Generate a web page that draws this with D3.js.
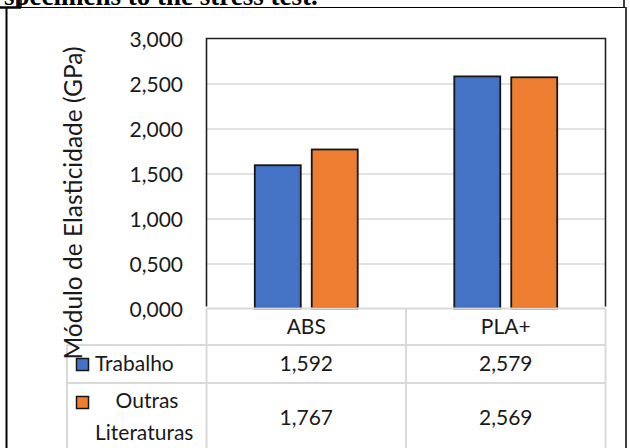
<!DOCTYPE html>
<html>
<head>
<meta charset="utf-8">
<script src="https://cdn.jsdelivr.net/npm/d3@7"></script>
<style>
  html, body { margin: 0; padding: 0; background: #fff; }
  svg { display: block; }
  text { font-family: Lato, "Open Sans", sans-serif; fill: #1a1a1a; }
</style>
</head>
<body>
<svg id="chart" width="630" height="448"></svg>
<script>
// Elastic modulus per material, with a data table underneath
const categories = ["ABS", "PLA+"];
const seriesNames = ["Trabalho", "Outras Literaturas"];
const trabalho = [1.592, 2.579];
const outrasLiteraturas = [1.767, 2.569];
const yTicks = [0, 0.5, 1, 1.5, 2, 2.5, 3];
const seriesColors = ["#4472C4", "#ED7D31"];
const yTitle = "Módulo de Elasticidade (GPa)";
const caption = "specimens to the stress test.";

const seriesValues = [trabalho, outrasLiteraturas];
const fmt = v => d3.format(".3f")(v).replace(".", ",");

const svg = d3.select("#chart");
const fs = 21;

// page frame around the figure
const frame = svg.append("g");
frame.append("text")
  .attr("x", 4).attr("y", 5)
  .style("font-family", "'Liberation Serif', 'Times New Roman', serif")
  .style("font-weight", "bold").style("font-size", "27px")
  .style("fill", "#000")
  .text(caption);
frame.append("rect").attr("x", 0).attr("y", 7.5).attr("width", 630).attr("height", 441)
  .attr("fill", "#fff");
frame.append("line").attr("x1", 0).attr("x2", 625).attr("y1", 7.5).attr("y2", 7.5)
  .attr("stroke", "#000").attr("stroke-width", 1.2);
frame.append("line").attr("x1", 0).attr("x2", 21).attr("y1", 7.5).attr("y2", 7.5)
  .attr("stroke", "#000").attr("stroke-width", 2.5);
frame.append("line").attr("x1", 21).attr("x2", 21).attr("y1", 0).attr("y2", 8)
  .attr("stroke", "#000").attr("stroke-width", 1.5);
frame.append("line").attr("x1", 624).attr("x2", 624).attr("y1", 0).attr("y2", 8)
  .attr("stroke", "#000").attr("stroke-width", 1.5);
frame.append("line").attr("x1", 6.5).attr("x2", 6.5).attr("y1", 7).attr("y2", 448)
  .attr("stroke", "#000").attr("stroke-width", 2);
frame.append("line").attr("x1", 626).attr("x2", 626).attr("y1", 7).attr("y2", 448)
  .attr("stroke", "#000").attr("stroke-width", 1.5);

// plot area
const plot = { left: 206.5, right: 605.5, top: 38.5, bottom: 308.5 };

const y = d3.scaleLinear().domain([0, 3]).range([plot.bottom, plot.top]);
const x0 = d3.scaleBand().domain(categories).range([plot.left, plot.right]).padding(0);
const groupW = x0.bandwidth() * 0.516;
const x1 = d3.scaleBand().domain(seriesNames)
  .range([(x0.bandwidth() - groupW) / 2, (x0.bandwidth() + groupW) / 2])
  .paddingInner(0.193).paddingOuter(0);

// gridlines
svg.append("g")
  .attr("transform", `translate(${plot.left},0)`)
  .call(d3.axisLeft(y).tickValues(yTicks.filter(t => t > 0 && t < 3))
    .tickSize(-(plot.right - plot.left)).tickFormat(""))
  .call(g => g.select(".domain").remove())
  .call(g => g.selectAll("line").attr("stroke", "#d9d9d9").attr("stroke-width", 1.5));

// y tick labels
svg.append("g")
  .attr("transform", `translate(${183},0)`)
  .call(d3.axisLeft(y).tickValues(yTicks).tickSize(0).tickPadding(0).tickFormat(fmt))
  .call(g => g.select(".domain").remove())
  .call(g => g.selectAll("text")
    .style("font-size", fs + "px").style("font-family", "Lato, sans-serif")
    .attr("fill", "#1a1a1a").attr("dy", "0.36em").attr("x", 0));

// bars
const groups = svg.append("g").selectAll("g")
  .data(categories)
  .join("g")
  .attr("transform", d => `translate(${x0(d)},0)`);

groups.selectAll("rect")
  .data((d, i) => seriesNames.map((s, j) => ({ s, j, v: seriesValues[j][i] })))
  .join("rect")
  .attr("x", d => x1(d.s))
  .attr("width", x1.bandwidth())
  .attr("y", d => y(d.v))
  .attr("height", d => y(0) - y(d.v))
  .attr("fill", d => seriesColors[d.j])
  .attr("stroke", "#161616")
  .attr("stroke-width", 1.8);

// plot border (left, top, right)
svg.append("path")
  .attr("d", `M${plot.left},${plot.bottom - 2} V${plot.top} H${plot.right} V${plot.bottom - 2}`)
  .attr("fill", "none").attr("stroke", "#1f1f1f").attr("stroke-width", 1.6);

// data table
const gridColor = "#d9d9d9";
const legendLeft = 67;
const rowY = [plot.bottom, 345, 383, 460];
const table = svg.append("g");
table.append("line").attr("x1", plot.left).attr("x2", plot.right)
  .attr("y1", rowY[0]).attr("y2", rowY[0]);
[rowY[1], rowY[2]].forEach(yy => table.append("line")
  .attr("x1", legendLeft).attr("x2", plot.right).attr("y1", yy).attr("y2", yy));
[plot.left, x0("PLA+"), plot.right].forEach(xx => table.append("line")
  .attr("x1", xx).attr("x2", xx).attr("y1", rowY[0]).attr("y2", 448));
table.append("line").attr("x1", legendLeft).attr("x2", legendLeft)
  .attr("y1", rowY[1]).attr("y2", 448);
table.selectAll("line").attr("stroke", gridColor).attr("stroke-width", 2);

// header row: category names
table.selectAll("text.cat")
  .data(categories)
  .join("text")
  .attr("class", "cat")
  .attr("x", d => x0(d) + x0.bandwidth() / 2)
  .attr("y", 334)
  .attr("text-anchor", "middle")
  .style("font-size", fs + "px")
  .text(d => d);

// value rows
const rowBaselines = [371, 425];
seriesNames.forEach((s, j) => {
  table.selectAll(`text.val${j}`)
    .data(seriesValues[j])
    .join("text")
    .attr("class", `val${j}`)
    .attr("x", (d, i) => x0(categories[i]) + x0.bandwidth() / 2)
    .attr("y", rowBaselines[j])
    .attr("text-anchor", "middle")
    .style("font-size", fs + "px")
    .text(d => fmt(d));
});

// legend keys in the first column
const keyY = [358, 396];
seriesNames.forEach((s, j) => {
  table.append("rect")
    .attr("x", 76.5).attr("y", keyY[j] + 0.5)
    .attr("width", 12).attr("height", 12)
    .attr("fill", seriesColors[j])
    .attr("stroke", "#161616").attr("stroke-width", 1.5);
});
table.append("text").attr("x", 95).attr("y", 371)
  .style("font-size", fs + "px").text(seriesNames[0]);
const parts = seriesNames[1].split(" ");
table.append("text").attr("x", 147).attr("y", 408).attr("text-anchor", "middle")
  .style("font-size", fs + "px").text(parts[0]);
table.append("text").attr("x", 95).attr("y", 440)
  .style("font-size", fs + "px").text(parts[1]);

// y axis title
svg.append("text")
  .attr("transform", `translate(82,${203}) rotate(-90)`)
  .attr("text-anchor", "middle")
  .style("font-size", "24.5px")
  .text(yTitle);
</script>
</body>
</html>
